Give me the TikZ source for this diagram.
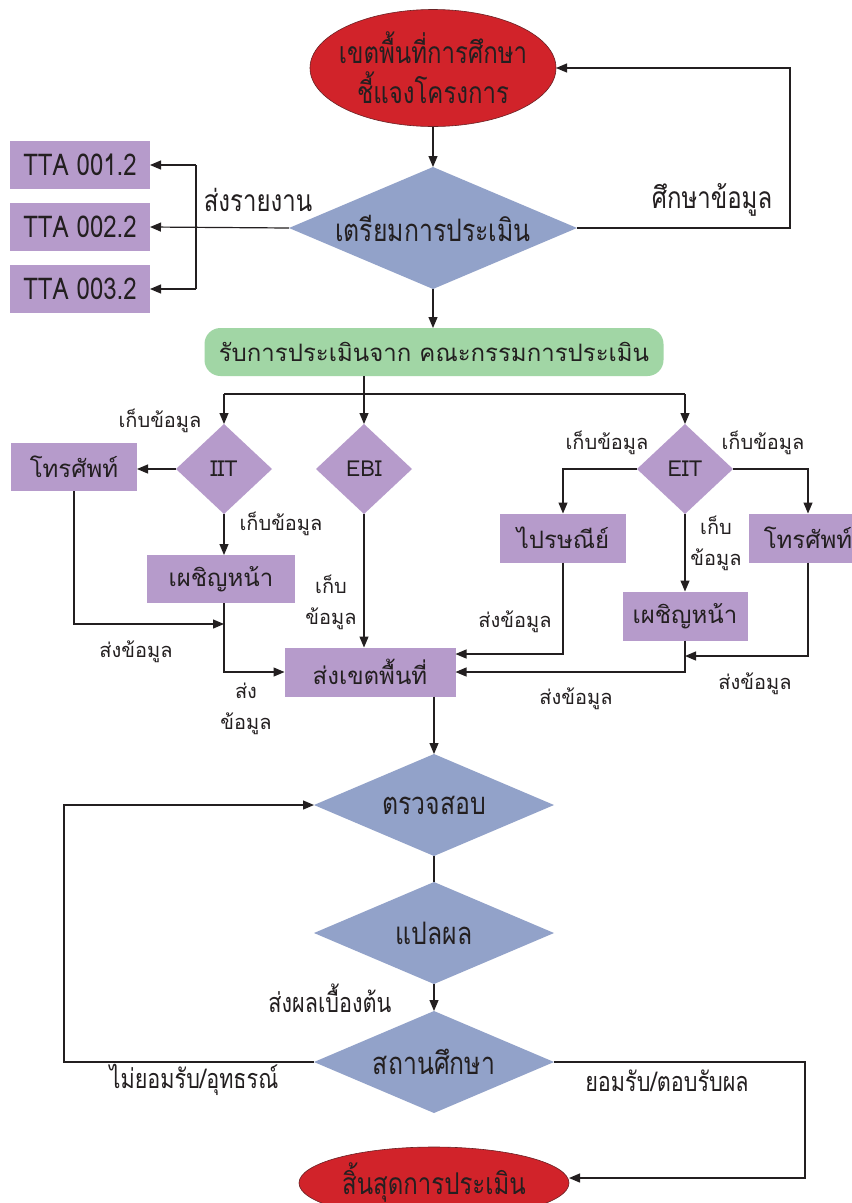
\documentclass[tikz,border=0pt]{standalone}
\usepackage{fontspec}
\setmainfont[Script=Thai]{Loma}
\newfontfamily\narrowfont[Script=Thai,FakeStretch=0.8]{Loma}
\usetikzlibrary{shapes.geometric,arrows.meta}
\definecolor{zonered}{HTML}{D1232A}
\definecolor{slate}{HTML}{92A2C9}
\definecolor{lilac}{HTML}{B69BCB}
\definecolor{mint}{HTML}{A1D6A5}
\definecolor{ink}{HTML}{231F20}

\begin{document}
\begin{tikzpicture}[x=1pt,y=-1pt,
    every node/.style={inner sep=0pt, outer sep=0pt, text=ink},
    flow/.style={draw=ink, line width=1.2pt, -{Triangle[length=11pt,width=9pt]}},
    link/.style={draw=ink, line width=1.2pt},
    oval/.style={ellipse, inner xsep=-25pt, fill=zonered, draw=ink!60!zonered, line width=0.6pt, align=center,
        font=\narrowfont\fontsize{30}{40}\selectfont},
    slatebox/.style={diamond, aspect=2.35, fill=slate, minimum width=240pt, minimum height=102pt,
        font=\narrowfont\fontsize{31}{34}\selectfont},
    lilacbox/.style={rectangle, fill=lilac, minimum height=48pt, font=\fontsize{24}{30}\selectfont},
    ttabox/.style={rectangle, fill=lilac, minimum width=140pt, minimum height=48pt,
        font=\narrowfont\fontsize{30}{34}\selectfont},
    lilacdia/.style={diamond, fill=lilac, minimum width=96pt, minimum height=90pt,
        font=\fontsize{22}{30}\selectfont},
    note/.style={align=center, font=\fontsize{20}{31}\selectfont},
    narrownote/.style={font=\narrowfont\fontsize{30}{34}\selectfont},
    lownote/.style={font=\narrowfont\fontsize{27}{32}\selectfont}
]
    \path[use as bounding box, fill=white] (0,0) rectangle (852,1203);

    % top part
    \node[oval, minimum width=246pt, minimum height=117pt] (zone) at (433,68) {เขตพื้นที่การศึกษา\\ชี้แจงโครงการ};
    \node[slatebox, minimum width=288pt, minimum height=122pt] (prep) at (433,228) {เตรียมการประเมิน};
    \node[ttabox] (tta1) at (80,165) {TTA 001.2};
    \node[ttabox] (tta2) at (80,227) {TTA 002.2};
    \node[ttabox] (tta3) at (80,289) {TTA 003.2};
    \node[narrownote] (lblreport) at (258,200) {ส่งรายงาน};
    \node[narrownote] (lblstudy) at (712,200) {ศึกษาข้อมูล};
    \coordinate (bus) at (196,228);

    \draw[flow] (zone) -- (prep);
    \draw[flow] (prep.east) -- ++(213,0) |- (zone.east);
    \draw[flow] (prep.west) -- (tta2.east);
    \draw[link] (bus |- tta1) -- (bus |- tta3);
    \draw[flow] (bus |- tta1) -- (tta1.east);
    \draw[flow] (bus |- tta3) -- (tta3.east);

    % committee and three methods
    \node[rectangle, rounded corners=16pt, fill=mint, minimum width=459pt, minimum height=48pt,
        font=\fontsize{24}{30}\selectfont] (recv) at (434,352) {รับการประเมินจาก คณะกรรมการประเมิน};
    \draw[flow] (prep.south) -- (prep.south |- recv.north);

    \node[lilacdia] (iit) at (224,469) {IIT};
    \node[lilacdia] (ebi) at (364,469) {EBI};
    \node[lilacdia] (eit) at (685,469) {EIT};
    \coordinate (split) at (364,394);
    \draw[flow] (recv.south -| ebi) -- (ebi.north);
    \draw[link] (iit |- split) -- (eit |- split);
    \draw[flow] (iit |- split) -- (iit.north);
    \draw[flow] (eit |- split) -- (eit.north);

    \node[lilacbox, minimum width=126pt] (telL) at (74,467) {โทรศัพท์};
    \node[lilacbox, minimum width=148pt] (faceL) at (221,579) {เผชิญหน้า};
    \node[lilacbox, minimum width=171pt, minimum height=49pt] (send) at (370,672) {ส่งเขตพื้นที่};
    \node[lilacbox, minimum width=126pt, minimum height=49pt] (post) at (563,538) {ไปรษณีย์};
    \node[lilacbox, minimum width=118pt, minimum height=49pt] (telR) at (808,538) {โทรศัพท์};
    \node[lilacbox, minimum width=125pt, minimum height=49pt] (faceR) at (685,616) {เผชิญหน้า};
    \coordinate (joinL) at (224,624);
    \coordinate (joinR) at (685,656);

    \draw[flow] (iit.west) -- (iit.west -| telL.east);
    \draw[flow] (iit.south) -- (iit.south |- faceL.north);
    \draw[flow] (telL.south) |- (joinL);
    \draw[flow] (faceL.south -| joinL) |- (send.west);
    \draw[flow] (ebi.south) -- (ebi.south |- send.north);
    \draw[flow] (eit.west) -| (post.north);
    \draw[flow] (eit.east) -| (telR.north);
    \draw[flow] (eit.south) -- (faceR.north);
    \draw[flow] (post.south) |- ([yshift=18pt]send.east);
    \draw[flow] (faceR.south) |- (send.east);
    \draw[flow] (telR.south) |- (joinR);

    \node[note] (lbliit) at (160,421) {เก็บข้อมูล};
    \node[note] (lbliitdown) at (281,524) {เก็บข้อมูล};
    \node[note] (lblsendL) at (136,652) {ส่งข้อมูล};
    \node[note] (lblsendface) at (246,709) {ส่ง\\ข้อมูล};
    \node[note] (lblebi) at (331,602) {เก็บ\\ข้อมูล};
    \node[note] (lbleitL) at (607,443) {เก็บข้อมูล};
    \node[note] (lbleitR) at (763,443) {เก็บข้อมูล};
    \node[note] (lbleitdown) at (716,543) {เก็บ\\ข้อมูล};
    \node[note] (lblpost) at (515,622) {ส่งข้อมูล};
    \node[note] (lblfaceR) at (576,699) {ส่งข้อมูล};
    \node[note] (lbltelR) at (755,684) {ส่งข้อมูล};

    % checking and result
    \node[slatebox] (check) at (434,805) {ตรวจสอบ};
    \node[slatebox] (interp) at (434,933) {แปลผล};
    \node[slatebox] (school) at (434,1062) {สถานศึกษา};
    \node[oval, minimum width=270pt, minimum height=72pt] (finish) at (434,1183) {สิ้นสุดการประเมิน};
    \node[lownote] (lblfirst) at (330,998) {ส่งผลเบื้องต้น};
    \node[lownote] (lblreject) at (194,1080) {ไม่ยอมรับ/อุทธรณ์};
    \node[lownote] (lblaccept) at (667,1081) {ยอมรับ/ตอบรับผล};

    \draw[flow] (send.south -| check) -- (check.north);
    \draw[link] (check.south) -- (interp.north);
    \draw[flow] (interp.south) -- (school.north);
    \draw[flow] (school.west) -- ++(-250,0) |- (check.west);
    \draw[flow] (school.east) -- ++(251,0) |- ([yshift=5pt]finish.east);
\end{tikzpicture}
\end{document}
